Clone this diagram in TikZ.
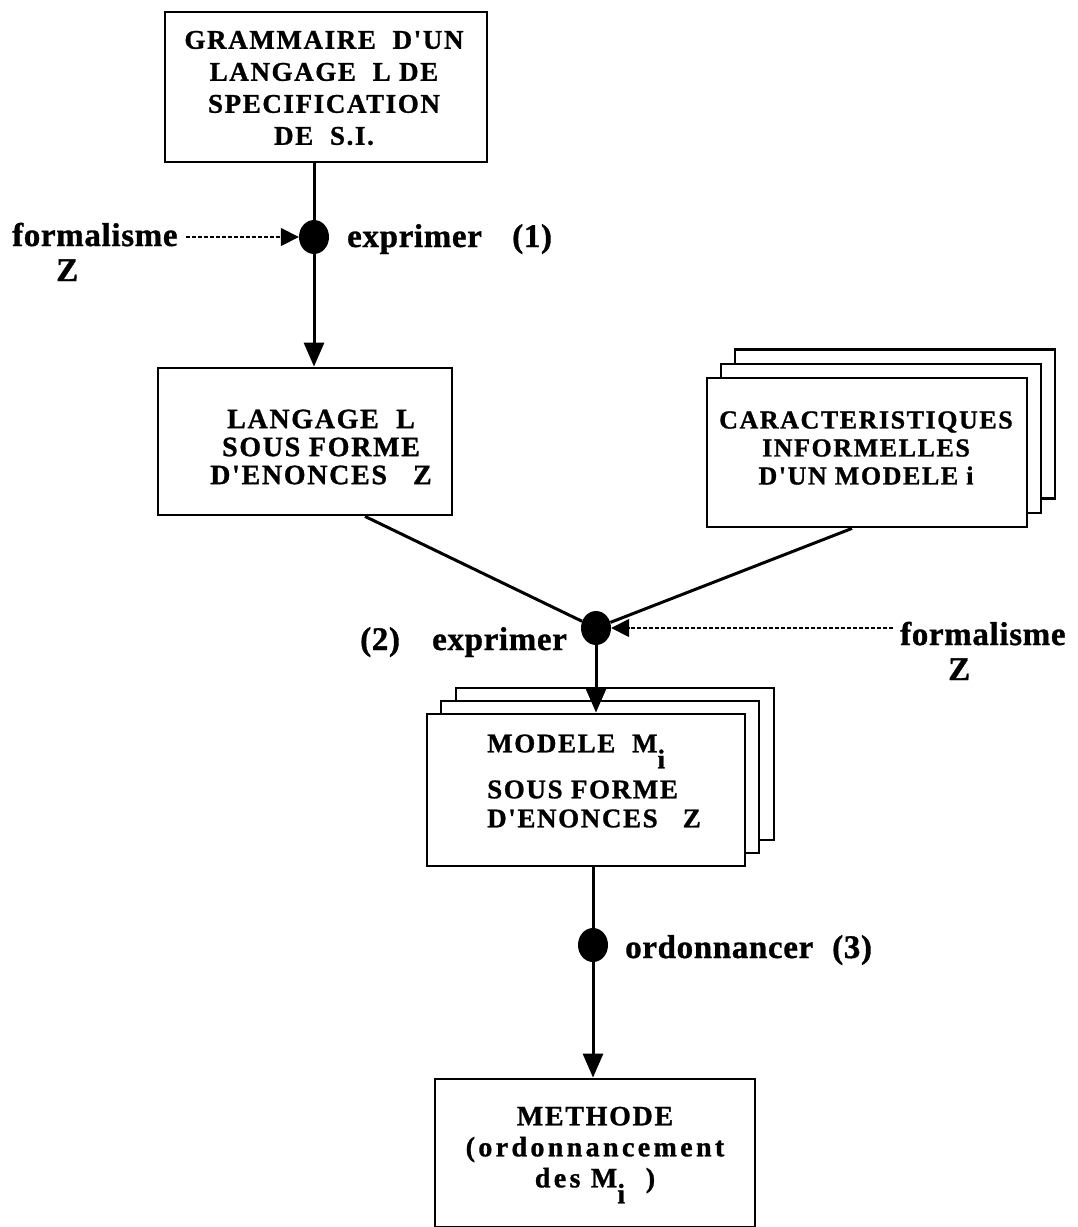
\documentclass[tikz,border=0pt]{standalone}
\usepackage{fontspec}
\usetikzlibrary{arrows.meta,shapes.geometric}
\newfontfamily\boxfont{Liberation Serif}[LetterSpace=6, BoldFeatures={FakeBold=1}]
\newfontfamily\wideboxfont{Liberation Serif}[LetterSpace=12, BoldFeatures={FakeBold=1}]
\newfontfamily\labfont{Liberation Serif}[LetterSpace=2, BoldFeatures={FakeBold=1}]
\tikzset{
 box/.style={draw, line width=2.8pt, fill=white, inner sep=0pt, rectangle},
 conn/.style={line width=3pt},
 arr/.style={-{Triangle[length=24pt,width=20pt]}},
 dasharr/.style={line width=1.6pt, dash pattern=on 4pt off 2pt, -{Triangle[length=18pt,width=18pt]}},
 blackdot/.style={ellipse, fill=black, minimum width=30pt, minimum height=34pt, inner sep=0pt},
 lab/.style={font=\labfont\bfseries\fontsize{33}{36}\selectfont, inner sep=0pt, anchor=base west},
 btext/.style={inner sep=0pt, align=center},
}
\newcommand{\subi}{\smash{\raisebox{-16pt}{i}}}
\begin{document}
\begin{tikzpicture}[x=1pt,y=-1pt]
\useasboundingbox (0,0) rectangle (1077,1227);
% boxes
\node[box, minimum width=322pt, minimum height=150pt] (b1) at (326,87) {};
\node[box, minimum width=294pt, minimum height=147pt] (b2) at (305,441.5) {};
\node[box, minimum width=320pt, minimum height=149pt] (b3c) at (895,424) {};
\node[box, minimum width=320pt, minimum height=149pt] (b3b) at (881,438.5) {};
\node[box, minimum width=320pt, minimum height=149pt] (b3) at (867,452.5) {};
\node[box, minimum width=318pt, minimum height=152pt] (b4c) at (615,764) {};
\node[box, minimum width=318pt, minimum height=152pt] (b4b) at (600,777) {};
\node[box, minimum width=318pt, minimum height=152pt] (b4) at (586,790) {};
\node[box, minimum width=320pt, minimum height=148pt] (b5) at (595,1153) {};
% dots
\node[blackdot] (dot1) at (314,237) {};
\node[blackdot] (dot2) at (596,628) {};
\node[blackdot] (dot3) at (593,945) {};
% connectors
\coordinate (b2o) at ([xshift=60pt]b2.south);
\coordinate (b3o) at ([xshift=-15pt]b3.south);
\draw[conn] (dot1 |- b1.south) -- (dot1);
\draw[conn, arr] (dot1) -- (dot1 |- b2.north);
\draw[conn] (b2o) -- (dot2);
\draw[conn] (b3o) -- (dot2);
\draw[conn, arr] (dot2) -- (dot2 |- b4.north);
\draw[conn] (dot3 |- b4.south) -- (dot3);
\draw[conn, arr] (dot3) -- (dot3 |- b5.north);
% labels
\node[lab] (f1) at (12,246) {formalisme};
\node[lab] (z1) at (56,281) {Z};
\node[lab] (e1) at (347,247) {exprimer};
\node[lab] (n1) at (512,247) {(1)};
\node[lab] (n2) at (360,650) {(2)};
\node[lab] (e2) at (432,650) {exprimer};
\node[lab] (f2) at (900,645) {formalisme};
\node[lab] (z2) at (948,680) {Z};
\node[lab] (o3) at (625,958) {ordonnancer};
\node[lab] (n3) at (832,958) {(3)};
\draw[dasharr, shorten <=8pt] (dot1 -| f1.east) -- (dot1.west);
\draw[dasharr, shorten <=7pt] (dot2 -| f2.west) -- (dot2.east);
% box texts
\node[btext, font=\boxfont\bfseries\fontsize{27}{32}\selectfont] (t1) at (324,88)
 {GRAMMAIRE\ \ D'UN\\LANGAGE\ \ L DE\\SPECIFICATION\\DE\ \ S.I.};
\node[btext, font=\boxfont\bfseries\fontsize{28}{28}\selectfont] (t2) at (321,447)
 {LANGAGE\ \ L\\SOUS\ FORME\\D'ENONCES\ \ \ Z};
\node[btext, font=\boxfont\bfseries\fontsize{26}{28}\selectfont] (t3) at (866,448)
 {CARACTERISTIQUES\\INFORMELLES\\D'UN\ MODELE\ i};
\node[btext, align=left, anchor=west, font=\boxfont\bfseries\fontsize{27}{29}\selectfont] (t4) at (487,781)
 {MODELE\ \ M\subi\\[17pt]SOUS\ FORME\\D'ENONCES\ \ \ Z};
\node[btext, font=\wideboxfont\bfseries\fontsize{28}{31}\selectfont] (t5) at (595,1150)
 {{\boxfont METHODE}\\(ordonnancement\\des M\subi\ \ )};
\end{tikzpicture}
\end{document}
